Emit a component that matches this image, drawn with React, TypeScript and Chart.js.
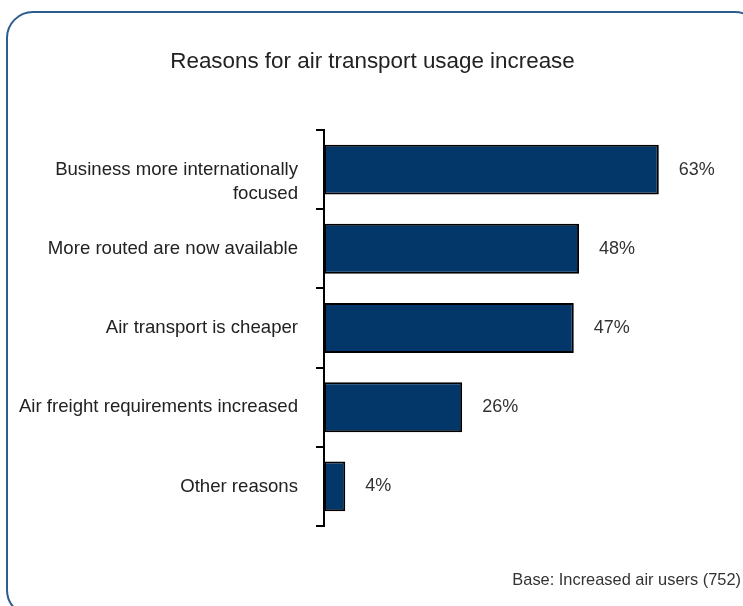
import React, { useEffect, useRef } from "react";
import { Chart, registerables } from "chart.js";

Chart.register(...registerables);

const categories: (string | string[])[] = [
  ["", "Business more internationally", "focused"],
  "More routed are now available",
  "Air transport is cheaper",
  "Air freight requirements increased",
  "Other reasons",
];
const values: number[] = [63, 48, 47, 26, 4];
const valueLabels: string[] = ["63%", "48%", "47%", "26%", "4%"];
const titleText = "Reasons for air transport usage increase";
const footerText = "Base: Increased air users (752)";

const FONT = '"Liberation Sans", Arial, Helvetica, sans-serif';

export default function App() {
  const ref = useRef<HTMLCanvasElement | null>(null);
  useEffect(() => {
    if (!ref.current) return;
    const decor = {
      id: "decor",
      beforeDraw(chart: any) {
        const ctx = chart.ctx;
        ctx.save();
        ctx.fillStyle = "#ffffff";
        ctx.fillRect(0, 0, chart.width, chart.height);
        ctx.beginPath();
        ctx.strokeStyle = "#2c5d8f";
        ctx.lineWidth = 2;
        (ctx as any).roundRect(7, 12, 754, 604, 26);
        ctx.stroke();
        ctx.fillStyle = "#222222";
        ctx.font = `22.4px ${FONT}`;
        ctx.textAlign = "center";
        ctx.textBaseline = "middle";
        ctx.fillText(titleText, 372.5, 62);
        ctx.font = `16.4px ${FONT}`;
        ctx.textAlign = "right";
        ctx.fillStyle = "#333333";
        ctx.fillText(footerText, 741, 580);
        ctx.restore();
      },
      afterDatasetsDraw(chart: any) {
        const ctx = chart.ctx;
        const meta = chart.getDatasetMeta(0);
        ctx.save();
        ctx.font = `18px ${FONT}`;
        ctx.fillStyle = "#333333";
        ctx.textAlign = "left";
        ctx.textBaseline = "middle";
        meta.data.forEach((bar: any, i: number) => {
          ctx.fillText(valueLabels[i], bar.x + 20, bar.y);
        });
        ctx.restore();
      },
    };
    const chart = new Chart(ref.current, {
      type: "bar",
      data: {
        labels: categories,
        datasets: [
          {
            data: values,
            backgroundColor: "#03376a",
            borderColor: "#000000",
            borderWidth: 2,
            borderSkipped: false,
            barPercentage: 0.63,
            categoryPercentage: 1,
          },
        ],
      },
      options: {
        indexAxis: "y",
        responsive: false,
        animation: false,
        devicePixelRatio: 1,
        layout: { padding: { top: 130, bottom: 80, left: 0, right: 47 } },
        plugins: { legend: { display: false }, tooltip: { enabled: false }, title: { display: false } },
        scales: {
          x: { display: false, min: 0, max: 70 },
          y: {
            afterFit(scale: any) {
              scale.width = 324;
            },
            grid: {
              display: true,
              drawOnChartArea: false,
              drawTicks: true,
              tickLength: 8,
              color: "#000000",
              lineWidth: 2,
              offset: true,
            },
            border: { display: true, color: "#000000", width: 2 },
            ticks: {
              padding: 18,
              color: "#222222",
              font: { size: 18.6, family: FONT, lineHeight: 1.33 },
            },
          },
        },
      },
      plugins: [decor],
    } as any);
    return () => chart.destroy();
  }, []);
  return (
    <canvas
      ref={ref}
      width={743}
      height={606}
      style={{ position: "fixed", left: 0, top: 0, width: 743, height: 606 }}
    />
  );
}
